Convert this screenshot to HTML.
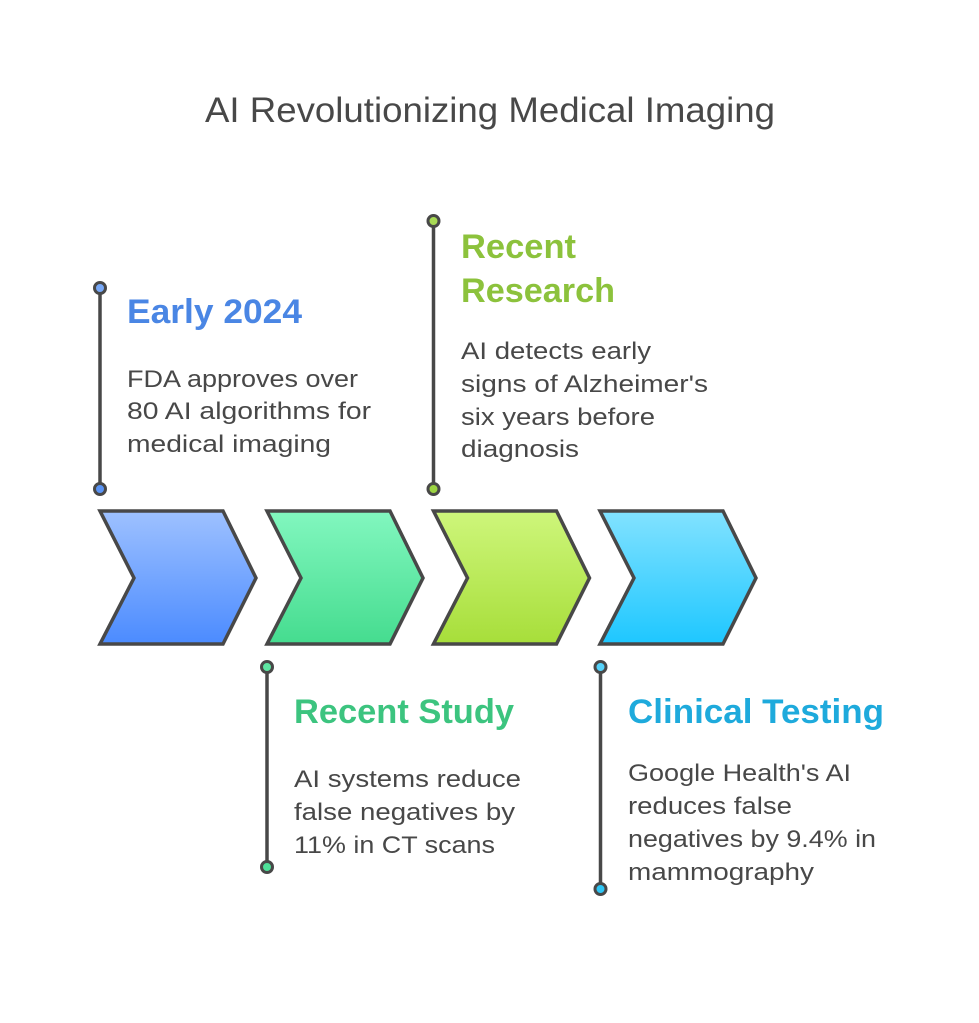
<!DOCTYPE html>
<html>
<head>
<meta charset="utf-8">
<style>
html,body{margin:0;padding:0;background:#ffffff;}
svg{display:block;}
text{font-family:"Liberation Sans",Arial,sans-serif;}
.h{font-weight:bold;font-size:34px;}
.b{font-size:24px;fill:#484848;}
</style>
</head>
<body>
<svg width="979" height="1023" viewBox="0 0 979 1023" xmlns="http://www.w3.org/2000/svg">
<defs>
<linearGradient id="gb" x1="0" y1="0" x2="0" y2="1"><stop offset="0" stop-color="#9EC1FF"/><stop offset="1" stop-color="#4B8BFF"/></linearGradient>
<linearGradient id="gg" x1="0" y1="0" x2="0" y2="1"><stop offset="0" stop-color="#82F7BF"/><stop offset="1" stop-color="#45DC8F"/></linearGradient>
<linearGradient id="gl" x1="0" y1="0" x2="0" y2="1"><stop offset="0" stop-color="#CEF67B"/><stop offset="1" stop-color="#A7DE3A"/></linearGradient>
<linearGradient id="gc" x1="0" y1="0" x2="0" y2="1"><stop offset="0" stop-color="#82E2FF"/><stop offset="1" stop-color="#1EC7FF"/></linearGradient>
</defs>
<rect width="979" height="1023" fill="#ffffff"/>

<text x="205" y="122" font-size="35" fill="#484848" textLength="570" lengthAdjust="spacingAndGlyphs">AI Revolutionizing Medical Imaging</text>

<!-- chevrons -->
<g stroke="#484848" stroke-width="3.5" stroke-linejoin="miter">
<polygon points="100,511 223,511 256,578 223,644 100,644 134,578" fill="url(#gb)"/>
<polygon points="267,511 390,511 423,578 390,644 267,644 301,578" fill="url(#gg)"/>
<polygon points="433.5,511 556.5,511 589.5,578 556.5,644 433.5,644 467.5,578" fill="url(#gl)"/>
<polygon points="600,511 723,511 756,578 723,644 600,644 634,578" fill="url(#gc)"/>
</g>

<!-- connector lines -->
<g stroke="#484848" stroke-width="3.5">
<line x1="100" y1="288" x2="100" y2="489"/>
<line x1="433.5" y1="221" x2="433.5" y2="489"/>
<line x1="267" y1="667" x2="267" y2="867"/>
<line x1="600.5" y1="667" x2="600.5" y2="889"/>
</g>
<g stroke="#484848" stroke-width="3">
<circle cx="100" cy="288" r="5.5" fill="#78A9F8"/>
<circle cx="100" cy="489" r="5.5" fill="#5A94F5"/>
<circle cx="433.5" cy="221" r="5.5" fill="#A8DA55"/>
<circle cx="433.5" cy="489" r="5.5" fill="#9CD442"/>
<circle cx="267" cy="667" r="5.5" fill="#5EE6A2"/>
<circle cx="267" cy="867" r="5.5" fill="#4EE098"/>
<circle cx="600.5" cy="667" r="5.5" fill="#55D2FA"/>
<circle cx="600.5" cy="889" r="5.5" fill="#2EC6F5"/>
</g>

<!-- Early 2024 -->
<text class="h" x="127" y="323" fill="#4A86E4" textLength="175" lengthAdjust="spacingAndGlyphs">Early 2024</text>
<text class="b" x="127" y="387" textLength="231" lengthAdjust="spacingAndGlyphs">FDA approves over</text>
<text class="b" x="127" y="419" textLength="244" lengthAdjust="spacingAndGlyphs">80 AI algorithms for</text>
<text class="b" x="127" y="452" textLength="204" lengthAdjust="spacingAndGlyphs">medical imaging</text>

<!-- Recent Research -->
<text class="h" x="461" y="258" fill="#8CC23C" textLength="115" lengthAdjust="spacingAndGlyphs">Recent</text>
<text class="h" x="461" y="302" fill="#8CC23C" textLength="154" lengthAdjust="spacingAndGlyphs">Research</text>
<text class="b" x="461" y="359" textLength="190" lengthAdjust="spacingAndGlyphs">AI detects early</text>
<text class="b" x="461" y="392" textLength="247" lengthAdjust="spacingAndGlyphs">signs of Alzheimer's</text>
<text class="b" x="461" y="425" textLength="194" lengthAdjust="spacingAndGlyphs">six years before</text>
<text class="b" x="461" y="457" textLength="118" lengthAdjust="spacingAndGlyphs">diagnosis</text>

<!-- Recent Study -->
<text class="h" x="294" y="723" fill="#3CC47F" textLength="220" lengthAdjust="spacingAndGlyphs">Recent Study</text>
<text class="b" x="294" y="787" textLength="227" lengthAdjust="spacingAndGlyphs">AI systems reduce</text>
<text class="b" x="294" y="820" textLength="221" lengthAdjust="spacingAndGlyphs">false negatives by</text>
<text class="b" x="294" y="853" textLength="201" lengthAdjust="spacingAndGlyphs">11% in CT scans</text>

<!-- Clinical Testing -->
<text class="h" x="628" y="723" fill="#1EAADC" textLength="256" lengthAdjust="spacingAndGlyphs">Clinical Testing</text>
<text class="b" x="628" y="781" textLength="223" lengthAdjust="spacingAndGlyphs">Google Health's AI</text>
<text class="b" x="628" y="814" textLength="164" lengthAdjust="spacingAndGlyphs">reduces false</text>
<text class="b" x="628" y="847" textLength="248" lengthAdjust="spacingAndGlyphs">negatives by 9.4% in</text>
<text class="b" x="628" y="880" textLength="186" lengthAdjust="spacingAndGlyphs">mammography</text>
</svg>
</body>
</html>
